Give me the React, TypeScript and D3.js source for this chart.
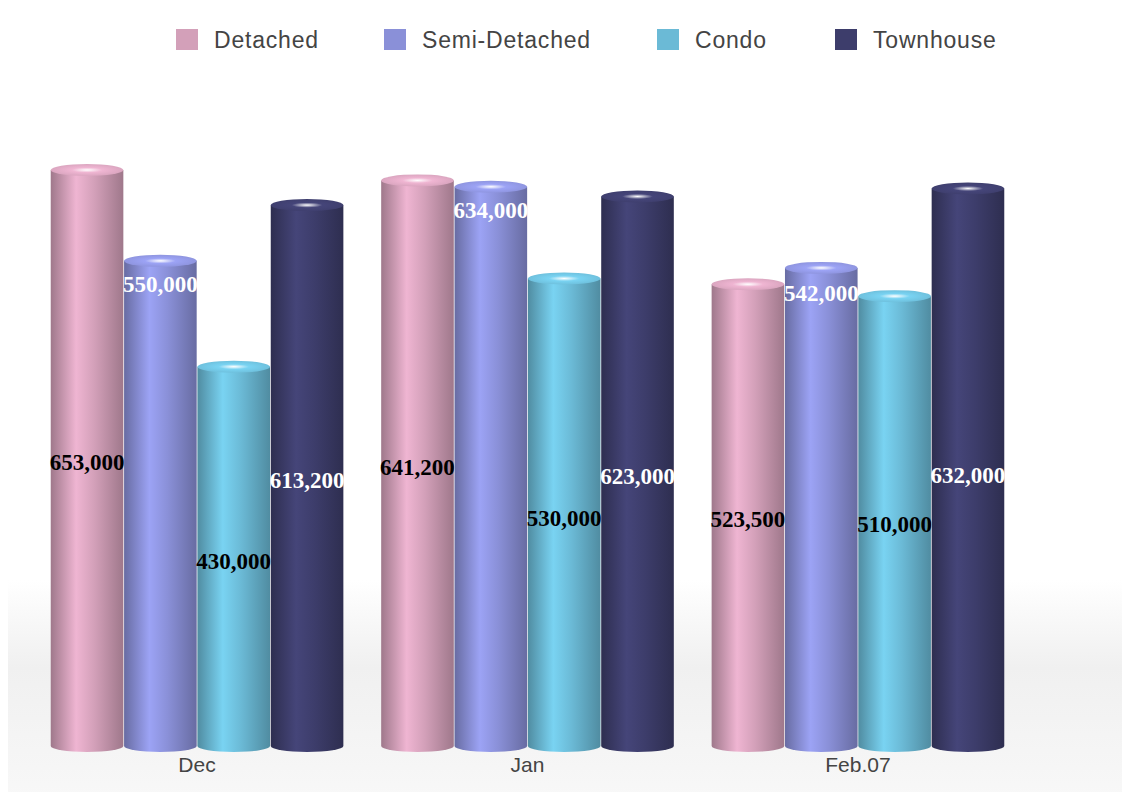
import React from "react";
import * as d3 from "d3";

const categories = ["Dec", "Jan", "Feb.07"];
const seriesNames = ["Detached", "Semi-Detached", "Condo", "Townhouse"];
const detached = [653000, 641200, 523500];
const semiDetached = [550000, 634000, 542000];
const condo = [430000, 530000, 510000];
const townhouse = [613200, 623000, 632000];
const seriesColors = ["#d3a0b9", "#8a90d8", "#6bbad6", "#3d3d6b"];
const labelColors = ["#000", "#fff", "#000", "#fff"];
// label vertical anchor (px) per series per category, as in the original
const labelY = [
  [470, 475, 527],
  [292, 218, 301],
  [569, 526, 532],
  [488, 484, 483],
];

const W = 1130, H = 800;
const values = [detached, semiDetached, condo, townhouse];

export default function App() {
  const x0 = d3.scaleBand().domain(categories).range([50, 1005]).paddingInner(0.11).paddingOuter(0);
  const x1 = d3.scaleBand().domain(seriesNames).range([0, x0.bandwidth()]).padding(0.01);
  const y = d3.scaleLinear().domain([0, 653000]).range([746, 170]);
  const fmt = d3.format(",");
  const ry = 6;
  const sans = "Helvetica, Arial, 'Liberation Sans', sans-serif";
  return (
    <svg width={W} height={H} style={{ display: "block", margin: -8 }}>
      <defs>
        <linearGradient id="floor" x1="0" y1="0" x2="0" y2="1">
          <stop offset="0" stopColor="#fff" />
          <stop offset="0.4" stopColor="#f0f0f0" />
          <stop offset="1" stopColor="#f8f8f8" />
        </linearGradient>
        {seriesColors.map((c, i) => {
          const dk = d3.color(c)!.darker(0.8).formatHex();
          const lt = d3.color(c)!.brighter(0.35).formatHex();
          return (
            <React.Fragment key={i}>
              <linearGradient id={"g" + i} x1="0" y1="0" x2="1" y2="0">
                <stop offset="0" stopColor={dk} />
                <stop offset="0.35" stopColor={lt} />
                <stop offset="0.6" stopColor={c} />
                <stop offset="1" stopColor={dk} />
              </linearGradient>
              <radialGradient id={"t" + i} cx="0.5" cy="0.5" r="0.6">
                <stop offset="0" stopColor="#fff" />
                <stop offset="0.35" stopColor={lt} />
                <stop offset="1" stopColor={c} />
              </radialGradient>
            </React.Fragment>
          );
        })}
      </defs>
      <rect x={0} y={580} width={W} height={220} fill="url(#floor)" />
      {seriesNames.map((s, i) => {
        const lx = [176, 384, 657, 835][i];
        return (
          <g key={s}>
            <rect x={lx} y={29} width={22} height={21} fill={seriesColors[i]} />
            <text x={lx + 38} y={48} fontSize={23} letterSpacing={0.8} fontFamily={sans} fill="#444">{s}</text>
          </g>
        );
      })}
      {categories.map((c, ci) => (
        <g key={c}>
          {seriesNames.map((s, si) => {
            const bx = x0(c)! + x1(s)!;
            const bw = x1.bandwidth();
            const top = y(values[si][ci]);
            const bot = y(0);
            return (
              <g key={s}>
                <path
                  d={`M${bx},${top} L${bx},${bot} A${bw / 2},${ry} 0 0 0 ${bx + bw},${bot} L${bx + bw},${top} Z`}
                  fill={`url(#g${si})`}
                />
                <ellipse cx={bx + bw / 2} cy={top} rx={bw / 2} ry={ry} fill={`url(#t${si})`} />
                <text x={bx + bw / 2} y={labelY[si][ci]} textAnchor="middle" fontSize={23} fontWeight="bold"
                  fontFamily="'Times New Roman', 'Liberation Serif', serif" fill={labelColors[si]}>
                  {fmt(values[si][ci])}
                </text>
              </g>
            );
          })}
          <text x={x0(c)! + x0.bandwidth() / 2} y={772} textAnchor="middle" fontSize={21}
            fontFamily={sans} fill="#444">{c}</text>
        </g>
      ))}
    </svg>
  );
}
